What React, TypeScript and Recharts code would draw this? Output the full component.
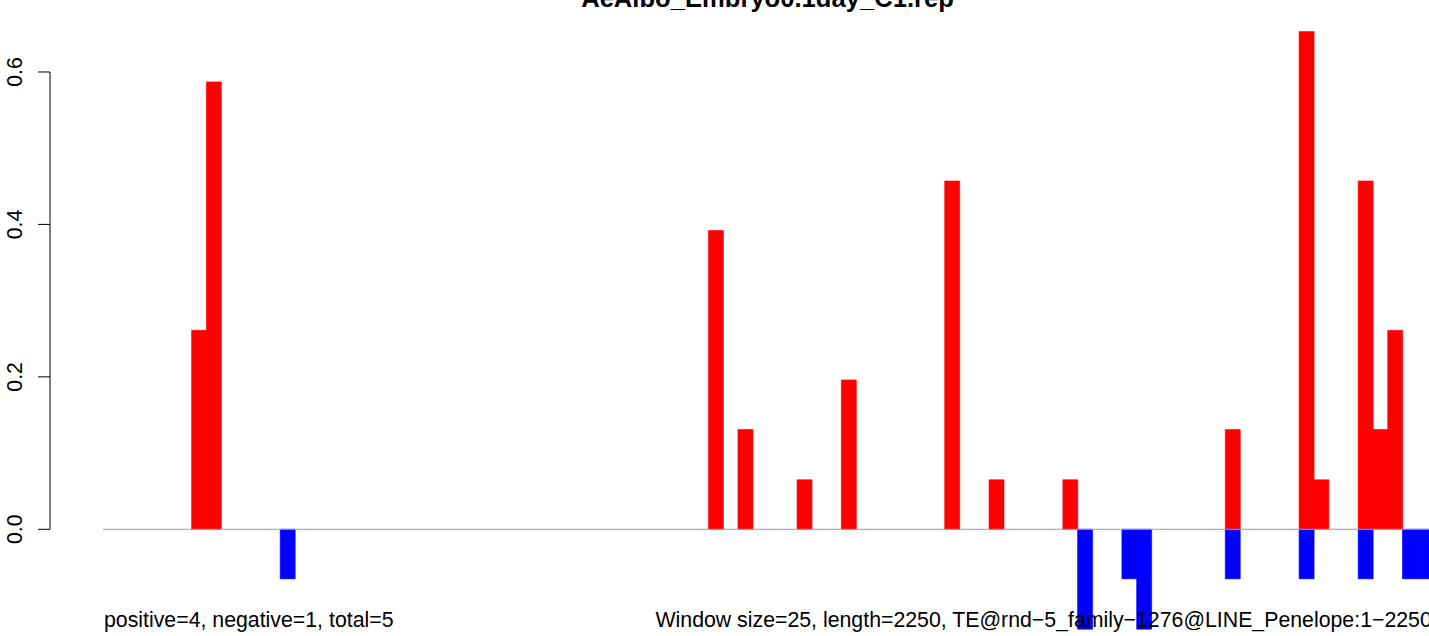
import React from 'react';
import { BarChart, Bar, XAxis, YAxis, ReferenceLine } from 'recharts';

// 2250 bp in 25 bp windows -> 90 windows, index 0..89
const WINDOW_COUNT = 90;

// windows with positive-strand signal and their values
const posWindows = [6, 7, 41, 43, 47, 50, 57, 60, 65, 76, 81, 82, 85, 86, 87];
const posValues = [0.261, 0.587, 0.392, 0.131, 0.065, 0.196, 0.457, 0.065, 0.065, 0.131, 0.653, 0.065, 0.457, 0.131, 0.261];

// windows with negative-strand signal
const negWindows = [12, 66, 69, 70, 76, 81, 85, 88, 89];
const negValues = [-0.065, -0.131, -0.065, -0.131, -0.065, -0.065, -0.065, -0.065, -0.065];

const yTicks = [0, 0.2, 0.4, 0.6];

const title = 'AeAlbo_Embryo0.1day_C1.rep';
const leftNote = 'positive=4, negative=1, total=5';
const rightNote = 'Window size=25, length=2250, TE@rnd\u22125_family\u22121276@LINE_Penelope:1\u22122250';

const data = Array.from({ length: WINDOW_COUNT }, (_, i) => {
  const p = posWindows.indexOf(i);
  const n = negWindows.indexOf(i);
  return { win: i, pos: p >= 0 ? posValues[p] : 0, neg: n >= 0 ? negValues[n] : 0 };
});

const W = 1432;
const H = 636;
const TOP = 11;
const LEFT = 103;
const Y_MIN = -0.14;
const Y_MAX = 0.68;
const PX_PER_UNIT = (H - TOP) / (Y_MAX - Y_MIN);
const FONT = '"Liberation Sans", Arial, Helvetica, sans-serif';

const AxisTick = (props: any) => {
  const { y, payload } = props;
  const labelX = 21.7;
  return (
    <g>
      <line x1={38} x2={50} y1={y} y2={y} stroke="#000" strokeWidth={1} />
      {payload.value === 0 && (
        <line x1={50} x2={50} y1={y} y2={y - 0.6 * PX_PER_UNIT} stroke="#000" strokeWidth={1} />
      )}
      <text
        x={labelX}
        y={y}
        transform={`rotate(-90 ${labelX} ${y})`}
        textAnchor="middle"
        fontSize={21.3}
        fontFamily={FONT}
        fill="#000"
      >
        {payload.value.toFixed(1)}
      </text>
    </g>
  );
};

const App: React.FC = () => {
  return (
    <div
      style={{
        position: 'absolute',
        left: 0,
        top: 0,
        width: 1429,
        height: 636,
        overflow: 'hidden',
        background: '#fff',
      }}
    >
      <BarChart
        width={W}
        height={H}
        data={data}
        margin={{ top: TOP, right: 0, bottom: 0, left: 0 }}
        barCategoryGap={0}
        barGap={0}
        stackOffset="sign"
      >
        <XAxis dataKey="win" hide />
        <YAxis
          width={LEFT}
          domain={[Y_MIN, Y_MAX]}
          ticks={yTicks}
          allowDataOverflow
          axisLine={false}
          tickLine={false}
          tick={<AxisTick />}
        />
        <ReferenceLine y={0} stroke="#9e9e9e" strokeWidth={1} />
        {/* thin same-colour stroke closes the seams between neighbouring windows */}
        <Bar dataKey="pos" stackId="s" fill="#ff0000" stroke="#ff0000" strokeWidth={0.6} isAnimationActive={false} />
        <Bar dataKey="neg" stackId="s" fill="#0000ff" stroke="#0000ff" strokeWidth={0.6} isAnimationActive={false} />
      </BarChart>
      <svg
        width={W}
        height={H}
        style={{ position: 'absolute', left: 0, top: 0, pointerEvents: 'none' }}
      >
        <text x={767.5} y={6.5} textAnchor="middle" fontSize={25.6} fontWeight="bold" fontFamily={FONT} fill="#000">
          {title}
        </text>
        <text x={104} y={627} fontSize={21.3} fontFamily={FONT} fill="#000">
          {leftNote}
        </text>
        <text x={1431.8} y={627} textAnchor="end" fontSize={21.3} fontFamily={FONT} fill="#000">
          {rightNote}
        </text>
      </svg>
    </div>
  );
};

export default App;
